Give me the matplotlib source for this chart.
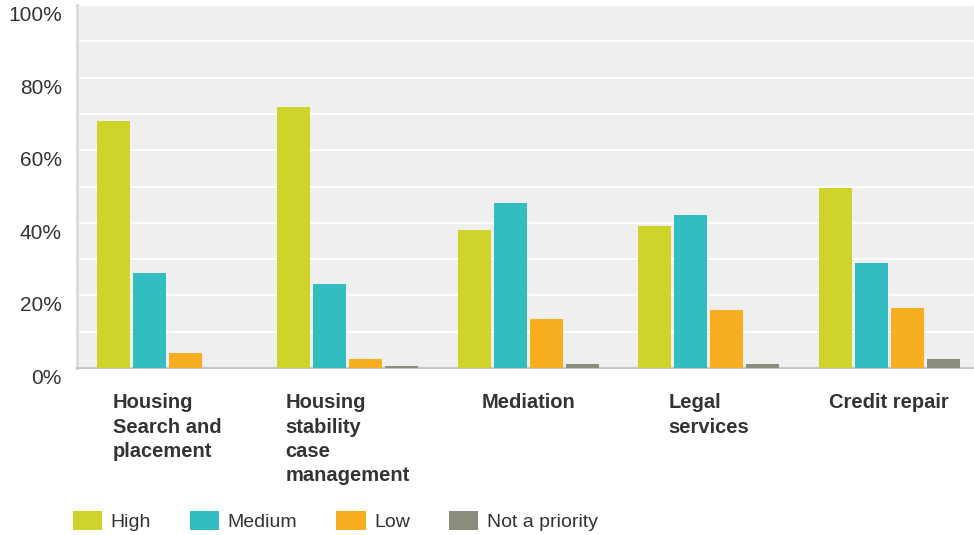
import matplotlib
matplotlib.use("Agg")
import matplotlib.pyplot as plt
import matplotlib.transforms as mtransforms
from matplotlib.ticker import FixedLocator
import numpy as np

categories = ["Housing\nSearch and\nplacement",
              "Housing\nstability\ncase\nmanagement",
              "Mediation",
              "Legal\nservices",
              "Credit repair"]
series_names = ["High", "Medium", "Low", "Not a priority"]
high = [68.0, 71.9, 38.0, 39.1, 49.6]
medium = [26.2, 23.1, 45.5, 42.1, 28.9]
low = [4.1, 2.5, 13.5, 16.0, 16.5]
not_priority = [0.0, 0.6, 1.1, 1.1, 2.5]
y_major = [0, 20, 40, 60, 80, 100]
y_labels = ["0%", "20%", "40%", "60%", "80%", "100%"]
y_minor = [10, 30, 50, 70, 90]

colors = ["#CFD42A", "#33BDC0", "#F7AF20", "#8C8C7E"]

plt.rcParams['font.family'] = ['Liberation Sans', 'DejaVu Sans']

fig = plt.figure(figsize=(9.74, 5.35), dpi=100)
ax = fig.add_axes([77/974, 1 - 368/535, 1 - 77/974, (368 - 5)/535])
ax.set_facecolor("#EFEFEF")

x = np.arange(len(categories))
pitch = 0.2
width = 0.183
handles = []
for i, (vals, name) in enumerate(zip([high, medium, low, not_priority], series_names)):
    b = ax.bar(x + (i - 1.5) * pitch, vals, width=width, color=colors[i], label=name, zorder=3)
    handles.append(b)

ax.set_xlim(-0.5, 4.47)
ax.set_ylim(0, 100)
ax.yaxis.set_major_locator(FixedLocator(y_major))
ax.yaxis.set_minor_locator(FixedLocator(y_minor))
ax.set_yticklabels(y_labels)
ax.grid(True, axis='y', which='both', color='white', linewidth=1.5, zorder=1)
ax.tick_params(axis='y', which='both', length=0, pad=10.8, labelsize=15, labelcolor='#333333')
ax.tick_params(axis='x', which='both', length=0)
ax.set_xticks([])

offset = mtransforms.ScaledTranslation(0, -0.085, fig.dpi_scale_trans)
for lab in ax.get_yticklabels():
    lab.set_transform(lab.get_transform() + offset)

for s in ['top', 'right']:
    ax.spines[s].set_visible(False)
ax.spines['left'].set_color('#DCDCDC')
ax.spines['left'].set_linewidth(2.2)
ax.spines['bottom'].set_color('#C8C8C8')
ax.spines['bottom'].set_linewidth(1.5)

for xi, cat in zip(x, categories):
    ax.text(xi, -7.0, cat, ha='center', va='top', multialignment='left',
            fontsize=14.5, fontweight='bold', color='#333333', linespacing=1.34,
            transform=ax.transData, clip_on=False)

leg = fig.legend(handles=handles, labels=series_names, loc='center left',
                 bbox_to_anchor=(63/974, 1 - 521/535), ncol=4, frameon=False,
                 fontsize=14, handlelength=1.5, handleheight=1.1, handletextpad=0.45,
                 columnspacing=2.0, borderpad=0, labelcolor='#333333')
for p in leg.get_patches():
    p.set_joinstyle('round')

fig.savefig("out.png", dpi=100)
